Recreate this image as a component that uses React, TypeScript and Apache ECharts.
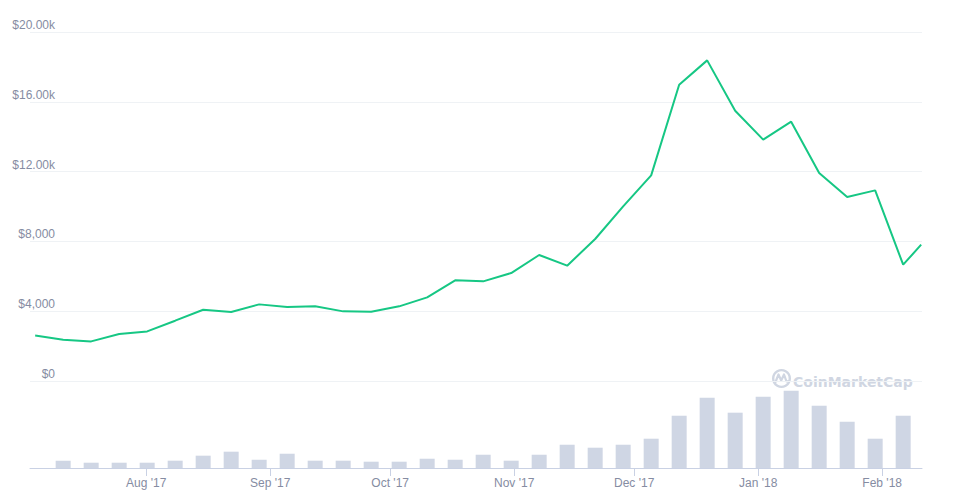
import React, { useEffect, useRef } from "react";
import * as echarts from "echarts";

// Weekly sample dates (local time)
const dates: string[] = [
  "2017-07-04T12:00", "2017-07-11T12:00", "2017-07-18T12:00", "2017-07-25T12:00",
  "2017-08-01T12:00", "2017-08-08T12:00", "2017-08-15T12:00", "2017-08-22T12:00",
  "2017-08-29T12:00", "2017-09-05T12:00", "2017-09-12T12:00", "2017-09-19T12:00",
  "2017-09-26T12:00", "2017-10-03T12:00", "2017-10-10T12:00", "2017-10-17T12:00",
  "2017-10-24T12:00", "2017-10-31T12:00", "2017-11-07T12:00", "2017-11-14T12:00",
  "2017-11-21T12:00", "2017-11-28T12:00", "2017-12-05T12:00", "2017-12-12T12:00",
  "2017-12-19T12:00", "2017-12-26T12:00", "2018-01-02T12:00", "2018-01-09T12:00",
  "2018-01-16T12:00", "2018-01-23T12:00", "2018-01-30T12:00", "2018-02-06T12:00",
  "2018-02-11T00:00",
];

// Price in USD
const prices: number[] = [
  2613, 2367, 2270, 2693, 2843, 3456, 4086, 3954,
  4391, 4240, 4278, 3990, 3972, 4278, 4793, 5767,
  5710, 6187, 7220, 6608, 8138, 10006, 11783, 16981,
  18374, 15491, 13830, 14861, 11920, 10545, 10924, 6665,
  7811,
];

// Volume in billions USD
const volumes: (number | null)[] = [
  null, 10.1, 7.3, 7.3, 7.3, 10.1, 17.0, 22.5,
  11.4, 19.7, 10.1, 10.1, 8.7, 8.7, 12.8, 11.4,
  18.3, 10.1, 18.3, 32.1, 28.0, 32.1, 40.4, 72.1,
  96.9, 76.3, 98.3, 106.6, 85.9, 63.8, 40.4, 72.1,
  null,
];

const monthTicks: string[] = [
  "2017-08-01T06:00", "2017-09-01T06:00", "2017-10-01T06:00", "2017-11-01T06:00",
  "2017-12-01T06:00", "2018-01-01T06:00", "2018-02-01T06:00",
];
const monthLabels: string[] = ["Aug '17", "Sep '17", "Oct '17", "Nov '17", "Dec '17", "Jan '18", "Feb '18"];

const priceTicks: number[] = [0, 4000, 8000, 12000, 16000, 20000];
const priceLabels: string[] = ["$0", "$4,000", "$8,000", "$12.00k", "$16.00k", "$20.00k"];

const X_MIN = "2017-07-03T05:00";
const X_MAX = "2018-02-11T05:00";

export default function App() {
  const ref = useRef<HTMLDivElement>(null);

  useEffect(() => {
    document.body.style.margin = "0";
    if (!ref.current) return;
    const chart = echarts.init(ref.current, null, { renderer: "svg" });
    const t = (s: string) => new Date(s).getTime();
    const tickTimes = monthTicks.map(t);
    const xmin = t(X_MIN);
    const xmax = t(X_MAX);

    const labelColor = "#858ca2";
    const font = "'Liberation Sans', Arial, sans-serif";

    chart.setOption({
      animation: false,
      backgroundColor: "#ffffff",
      grid: [
        { left: 30, right: 41, top: 32, height: 349 },
        { left: 30, right: 41, top: 381, height: 87 },
      ],
      xAxis: [
        {
          type: "value",
          gridIndex: 0,
          min: xmin,
          max: xmax,
          show: false,
          splitLine: { show: false },
        },
        {
          type: "value",
          gridIndex: 1,
          min: xmin,
          max: xmax,
          axisLine: { show: true, lineStyle: { color: "#c9d1e4", width: 1 } },
          axisTick: {
            show: true,
            customValues: tickTimes,
            length: 8,
            lineStyle: { color: "#c9d1e4" },
          },
          axisLabel: {
            show: true,
            customValues: tickTimes,
            margin: 9,
            color: labelColor,
            fontSize: 12,
            fontFamily: font,
            showMinLabel: true,
            showMaxLabel: true,
            formatter: (v: number) => {
              let best = 0;
              let bd = Infinity;
              tickTimes.forEach((tt, i) => {
                const d = Math.abs(tt - v);
                if (d < bd) { bd = d; best = i; }
              });
              return monthLabels[best];
            },
          },
          splitLine: { show: false },
        },
      ],
      yAxis: [
        {
          type: "value",
          gridIndex: 0,
          min: 0,
          max: 20000,
          interval: 4000,
          axisLine: { show: false },
          axisTick: { show: false },
          splitLine: { show: true, lineStyle: { color: "#eff2f5", width: 1 } },
          axisLabel: {
            show: true,
            margin: -25,
            verticalAlign: "bottom",
            lineHeight: 14,
            color: labelColor,
            fontSize: 12,
            fontFamily: font,
            formatter: (v: number) => {
              const i = priceTicks.indexOf(v);
              return i >= 0 ? priceLabels[i] : "";
            },
          },
        },
        {
          type: "value",
          gridIndex: 1,
          min: 0,
          max: 120,
          show: false,
          splitLine: { show: false },
        },
      ],
      graphic: [
        {
          type: "circle",
          shape: { cx: 781.5, cy: 378.5, r: 8.3 },
          style: { fill: "none", stroke: "#d0d6e2", lineWidth: 2.4 },
          silent: true,
        },
        {
          type: "polyline",
          shape: {
            points: [
              [775.5, 382], [778.5, 374.5], [781.2, 380.5], [784, 374.5], [786.5, 381.5], [789, 381],
            ],
          },
          style: { fill: "none", stroke: "#d0d6e2", lineWidth: 2.2, lineJoin: "round", lineCap: "round" },
          silent: true,
        },
        {
          type: "text",
          x: 793,
          y: 381.5,
          silent: true,
          style: {
            text: "CoinMarketCap",
            fill: "#d0d6e2",
            font: "bold 14px 'DejaVu Sans', sans-serif",
            verticalAlign: "middle",
            align: "left",
          },
        },
      ],
      series: [
        {
          type: "line",
          xAxisIndex: 0,
          yAxisIndex: 0,
          data: dates.map((d, i) => [t(d), prices[i]]),
          symbol: "none",
          smooth: false,
          lineStyle: { color: "#16c784", width: 2 },
          clip: true,
        },
        {
          type: "bar",
          xAxisIndex: 1,
          yAxisIndex: 1,
          data: dates.map((d, i) => [t(d), volumes[i]]),
          barWidth: 15,
          itemStyle: { color: "#cfd6e4" },
        },
      ],
    });

    return () => chart.dispose();
  }, []);

  return <div ref={ref} style={{ width: 963, height: 497 }} />;
}
